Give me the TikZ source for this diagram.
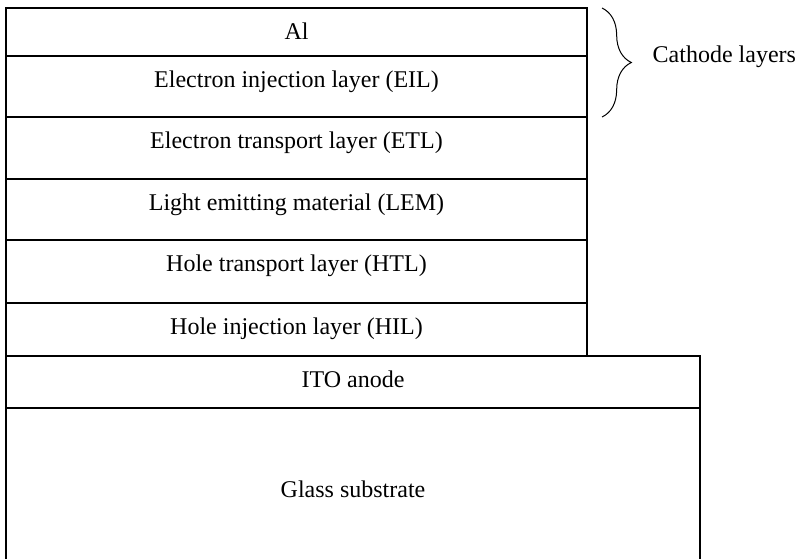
\documentclass[tikz,border=0pt]{standalone}
\usepackage{fontspec}
\setmainfont{Liberation Serif}
\usetikzlibrary{positioning, calc, decorations.pathreplacing}

\begin{document}
\begin{tikzpicture}[x=0.75pt, y=-0.75pt, node distance=0pt,
    font=\fontsize{18}{21.6}\selectfont,
    layer/.style={draw, line width=0.9pt, outer sep=0pt, inner sep=0pt,
      minimum width=435.75pt,
      label={[anchor=base, yshift=-23.6pt]north:#1}}]
  \useasboundingbox (0,0) rectangle (811,558);
  \clip (0,0) rectangle (811,558);
  % device stack, top to bottom
  \node[layer={Al}, minimum height=36pt, anchor=north west] (al) at (6,8) {};
  \node[layer={Electron injection layer (EIL)}, minimum height=45.75pt, below=of al] (eil) {};
  \node[layer={Electron transport layer (ETL)}, minimum height=46.5pt, below=of eil] (etl) {};
  \node[layer={Light emitting material (LEM)}, minimum height=45.75pt, below=of etl] (lem) {};
  \node[layer={Hole transport layer (HTL)}, minimum height=47.25pt, below=of lem] (htl) {};
  \node[layer={Hole injection layer (HIL)}, minimum height=39.75pt, below=of htl] (hil) {};
  \node[layer={ITO anode}, minimum width=520.5pt, minimum height=39pt,
    below right=0pt and 0pt of hil.south west] (ito) {};
  \node[layer={}, minimum width=520.5pt, minimum height=127.5pt,
    label={[anchor=base, yshift=-66.75pt]north:Glass substrate}, below=of ito] (glass) {};
  % cathode brace
  \coordinate (ctop) at ([xshift=11.25pt]al.north east);
  \coordinate (cbot) at ([xshift=11.25pt]eil.south east);
  \draw[decorate, decoration={brace, amplitude=22pt}, line width=0.75pt] (ctop) -- (cbot);
  \node[anchor=base west] (cath) at ($(ctop)!0.5!(cbot)+(46,0)$) {Cathode layers};
\end{tikzpicture}
\end{document}
